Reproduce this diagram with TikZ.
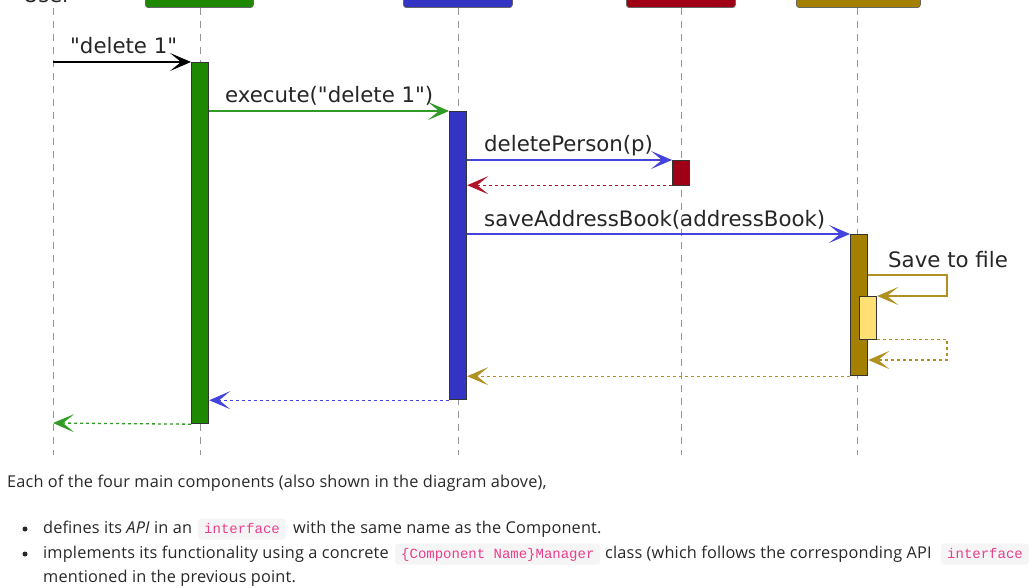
\documentclass[tikz,border=0pt]{standalone}
\usepackage{fontspec}
\setmainfont[LetterSpace=1]{Open Sans}
\setmonofont{Liberation Mono}
\newfontfamily\umlfont{DejaVu Sans}
\usetikzlibrary{arrows.meta}
\definecolor{gbar}{RGB}{30,136,0}
\definecolor{gline}{RGB}{50,155,40}
\definecolor{bbar}{RGB}{51,51,196}
\definecolor{bline}{RGB}{68,68,220}
\definecolor{rbar}{RGB}{160,0,22}
\definecolor{rline}{RGB}{176,20,40}
\definecolor{obar}{RGB}{163,128,0}
\definecolor{oline}{RGB}{176,144,32}
\definecolor{ybar}{RGB}{255,224,116}
\definecolor{txt}{RGB}{40,40,40}
\definecolor{codepink}{RGB}{232,62,140}
\definecolor{codebg}{RGB}{245,245,246}
\definecolor{lifegray}{RGB}{150,150,150}
\begin{document}
\begin{tikzpicture}[x=1pt,y=-1pt,
  headbox/.style={draw=black!60, line width=0.8pt, rounded corners=3pt, minimum height=30pt, inner sep=0, anchor=south west},
  life/.style={draw=lifegray, line width=1pt, dash pattern=on 7pt off 6pt},
  actbar/.style={draw=black!80, line width=1.2pt, minimum width=17pt, inner sep=0, anchor=north west},
  msg/.style={line width=1.3pt, -{Stealth[length=21pt,width=18pt,inset=11pt]}},
  ret/.style={msg, dash pattern=on 3pt off 3pt},
  lab/.style={anchor=base west, inner sep=0, font=\umlfont\fontsize{21.3}{22}\selectfont, text=black!85},
  body/.style={anchor=base west, inner sep=0, font=\fontsize{16.3}{18}\selectfont, text=txt},
  code/.style={anchor=base west, fill=codebg, rounded corners=3pt, inner xsep=6pt, inner ysep=2.5pt, text height=12pt, text depth=4pt, font=\ttfamily\fontsize{14}{16}\selectfont, text=codepink},
  bullet/.style={circle, fill=txt, minimum size=5pt, inner sep=0}
]
\useasboundingbox (0,0) rectangle (1036,588);
\clip (0,0) rectangle (1036,588);
\fill[white] (0,0) rectangle (1036,588);

% participants (top, cut off as in the reference)
\node[anchor=base, inner sep=0, font=\umlfont\fontsize{21}{22}\selectfont, text=black!85] (uh) at (47,3) {User};
\node[headbox, fill=gbar, minimum width=108pt] (gh) at (145,8) {};
\node[headbox, fill=bbar, minimum width=109pt] (bh) at (403,8) {};
\node[headbox, fill=rbar, minimum width=109pt] (rh) at (626,8) {};
\node[headbox, fill=obar, minimum width=124pt] (oh) at (796,8) {};

% lifelines
\coordinate (ut) at (53,8);
\coordinate (ub) at (53,455);
\coordinate (gb) at (200,455);
\coordinate (bb) at (458,455);
\coordinate (rb) at (681,455);
\coordinate (ob) at (857,455);
\draw[life] (ut) -- (ub);
\draw[life] (gb |- gh.south) -- (gb);
\draw[life] (bb |- bh.south) -- (bb);
\draw[life] (rb |- rh.south) -- (rb);
\draw[life] (ob |- oh.south) -- (ob);

% activation bars
\node[actbar, fill=gbar, minimum height=361pt] (ga) at (191,62) {};
\node[actbar, fill=bbar, minimum height=288pt] (ba) at (449,111) {};
\node[actbar, fill=rbar, minimum height=25pt] (ra) at (672,160) {};
\node[actbar, fill=obar, minimum height=141pt] (oa) at (850,234) {};
\node[actbar, fill=ybar, minimum height=43pt] (ya) at (859,296) {};

% messages
\coordinate (u1) at (53,62);
\draw[msg, black] (u1) -- (ga.north west);
\node[lab] (l1) at (70,54) {"delete 1"};

\draw[msg, gline] (ga.east |- ba.north) -- (ba.north west);
\node[lab] (l2) at (225,103) {execute("delete 1")};

\draw[msg, bline] (ba.east |- ra.north) -- (ra.north west);
\node[lab] (l3) at (484,152) {deletePerson(p)};

\draw[ret, rline] ([yshift=1pt]ra.south west) -- ([yshift=1pt]ba.east |- ra.south);

\draw[msg, bline] (ba.east |- oa.north) -- (oa.north west);
\node[lab] (l4) at (484,226) {saveAddressBook(addressBook)};

\coordinate (s1) at (947,275);
\draw[msg, oline] (oa.east |- s1) -- (s1) -- (s1 |- ya.north) -- (ya.north east);
\node[lab] (l5) at (888,267) {Save to file};

\coordinate (s2) at (947,360);
\draw[ret, oline] ([yshift=1pt]ya.south east) -- ([yshift=1pt]ya.south east -| s2) -- (s2) -- (oa.east |- s2);

\draw[ret, oline] (oa.south west) -- (ba.east |- oa.south);
\draw[ret, bline] (ba.south west) -- (ga.east |- ba.south);
\coordinate (u9) at (53,423);
\draw[ret, gline] (ga.south west) -- (u9);

% text below
\node[body] (t1) at (7,487) {Each of the four main components (also shown in the diagram above),};
\node[bullet] (b1) at (25,529) {};
\node[body] (t2) at (43,533) {defines its \textit{API} in an};
\node[code] (c1) at (198,533) {interface};
\node[body] (t3) at (293,533) {with the same name as the Component.};
\node[bullet] (b2) at (25,554) {};
\node[body] (t4) at (43,558) {implements its functionality using a concrete};
\node[code] (c2) at (395,558) {\{Component Name\}Manager};
\node[body] (t5) at (605,558) {class (which follows the corresponding API};
\node[code] (c3) at (941,558) {interface};
\node[body] (t6) at (43,582) {mentioned in the previous point.};
\end{tikzpicture}
\end{document}
